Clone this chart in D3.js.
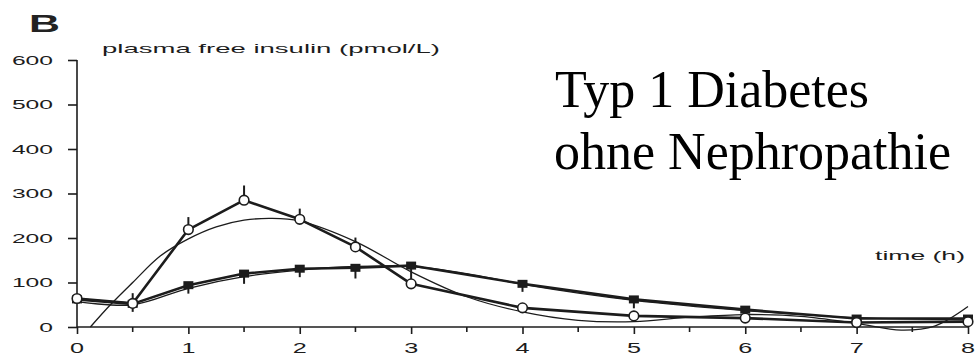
<!DOCTYPE html>
<html>
<head>
<meta charset="utf-8">
<script src="https://cdn.jsdelivr.net/npm/d3@7/dist/d3.min.js"></script>
<style>
  html, body { margin: 0; padding: 0; background: #ffffff; }
  svg { display: block; }
</style>
</head>
<body>
<script>
// Sampling times (h)
const hours = [0, 0.5, 1, 1.5, 2, 2.5, 3, 4, 5, 6, 7, 8];
// Open circles: plasma free insulin (pmol/L) and upper SEM
const circleVals = [64, 53, 219, 285, 242, 180, 97, 43, 25, 20, 10, 12];
const circleErr  = [0, 23, 28, 33, 24, 21, 0, 0, 0, 0, 0, 0];
// Filled squares: plasma free insulin (pmol/L) and lower SEM
const squareVals = [62, 52, 94, 120, 131, 133, 138, 97, 62, 39, 19, 19];
const squareErr  = [0, 18, 19, 23, 19, 24, 38, 18, 20, 6, 4, 0];
// Fitted profiles
const circleFitT = [0.12, 0.3, 0.5, 0.75, 1, 1.25, 1.5, 1.75, 2, 2.5, 3, 3.5, 4, 4.5, 5, 5.5, 6, 6.5, 7, 7.4, 7.7, 8];
const circleFitV = [0, 50, 100, 160, 198, 225, 240, 244, 238, 192, 124, 68, 34, 15, 12, 22, 28, 24, 8, -7, 2, 46];
const squareFitT = [0, 0.5, 1, 1.5, 2, 2.5, 3, 3.5, 4, 5, 6, 7, 8];
const squareFitV = [57, 50, 87, 113, 128, 136, 136, 120, 96, 60, 37, 21, 16];
// Axis ticks
const yTicks = [0, 100, 200, 300, 400, 500, 600];
const xTicks = [0, 1, 2, 3, 4, 5, 6, 7, 8];
const xMinor = [0.5, 1.5, 2.5, 3.5, 4.5, 5.5, 6.5, 7.5];

const W = 978, H = 355;
const ink = "#1c1c1c";
const sans = "'Liberation Sans', Arial, Helvetica, sans-serif";
const serif = "'Liberation Serif', 'Times New Roman', Times, serif";

const svg = d3.select("body").append("svg").attr("width", W).attr("height", H);

const x = d3.scaleLinear().domain([0, 8]).range([77, 968]);
const y = d3.scaleLinear().domain([0, 600]).range([327, 60]);

// Y axis
const yAxis = svg.append("g").attr("transform", `translate(${x(0)},0)`)
  .call(d3.axisLeft(y).tickValues(yTicks).tickSize(9).tickPadding(0).tickFormat(() => ""));
yAxis.select(".domain").attr("d", `M0,${y(600)}V${y(0)}`);
yAxis.selectAll("path, line").attr("stroke", ink).attr("stroke-width", 1.6);
svg.append("g").selectAll("text").data(yTicks).join("text")
  .attr("x", 53).attr("y", d => y(d) + 4.5)
  .attr("text-anchor", "end")
  .attr("font-family", sans).attr("font-size", 12.5).attr("fill", ink)
  .attr("textLength", d => String(d).length * 13.7).attr("lengthAdjust", "spacingAndGlyphs")
  .text(d => d);

// X axis
const xAxis = svg.append("g").attr("transform", `translate(0,${y(0)})`)
  .call(d3.axisBottom(x).tickValues(xTicks).tickSize(7).tickFormat(() => ""));
xAxis.select(".domain").attr("d", `M${x(0)},0H${x(8)}`);
xAxis.selectAll("path, line").attr("stroke", ink).attr("stroke-width", 1.6);
svg.append("g").selectAll("line").data(xMinor).join("line")
  .attr("x1", d => x(d)).attr("x2", d => x(d))
  .attr("y1", y(0)).attr("y2", y(0) + 5)
  .attr("stroke", ink).attr("stroke-width", 1.6);
svg.append("g").selectAll("text").data(xTicks).join("text")
  .attr("x", d => x(d)).attr("y", 353)
  .attr("text-anchor", "middle")
  .attr("font-family", sans).attr("font-size", 15).attr("fill", ink)
  .attr("textLength", 14).attr("lengthAdjust", "spacingAndGlyphs")
  .text(d => d);

// Fitted curves (thin)
const fitLine = d3.line().x(d => x(d[0])).y(d => y(d[1])).curve(d3.curveCatmullRom.alpha(0.5));
svg.append("path").datum(d3.zip(circleFitT, circleFitV))
  .attr("d", fitLine).attr("fill", "none").attr("stroke", ink).attr("stroke-width", 1.3);
svg.append("path").datum(d3.zip(squareFitT, squareFitV))
  .attr("d", fitLine).attr("fill", "none").attr("stroke", ink).attr("stroke-width", 1.3);

// Measured profiles (thick)
const dataLine = d3.line().x(d => x(d[0])).y(d => y(d[1]));
const squares = d3.zip(hours, squareVals, squareErr);
const circles = d3.zip(hours, circleVals, circleErr);

svg.append("path").datum(squares).attr("d", dataLine)
  .attr("fill", "none").attr("stroke", ink).attr("stroke-width", 2.6).attr("stroke-linejoin", "round");
svg.append("path").datum(circles).attr("d", dataLine)
  .attr("fill", "none").attr("stroke", ink).attr("stroke-width", 2.6).attr("stroke-linejoin", "round");

// Error bars
svg.append("g").selectAll("line").data(squares.filter(d => d[2] > 0)).join("line")
  .attr("x1", d => x(d[0])).attr("x2", d => x(d[0]))
  .attr("y1", d => y(d[1])).attr("y2", d => y(d[1] - d[2]))
  .attr("stroke", ink).attr("stroke-width", 2);
svg.append("g").selectAll("line").data(circles.filter(d => d[2] > 0)).join("line")
  .attr("x1", d => x(d[0])).attr("x2", d => x(d[0]))
  .attr("y1", d => y(d[1])).attr("y2", d => y(d[1] + d[2]))
  .attr("stroke", ink).attr("stroke-width", 2);

// Markers
svg.append("g").selectAll("rect").data(squares).join("rect")
  .attr("x", d => x(d[0]) - 5).attr("y", d => y(d[1]) - 4)
  .attr("width", 10).attr("height", 8).attr("fill", ink);
svg.append("g").selectAll("circle").data(circles).join("circle")
  .attr("cx", d => x(d[0])).attr("cy", d => y(d[1])).attr("r", 4.8)
  .attr("fill", "#ffffff").attr("stroke", ink).attr("stroke-width", 1.6);

// Panel letter and axis titles
svg.append("text").attr("x", 29).attr("y", 32)
  .attr("font-family", sans).attr("font-weight", "bold").attr("font-size", 23).attr("fill", "#222")
  .attr("textLength", 31).attr("lengthAdjust", "spacingAndGlyphs").text("B");
svg.append("text").attr("x", 102).attr("y", 53)
  .attr("font-family", sans).attr("font-size", 13).attr("fill", ink)
  .attr("textLength", 338).attr("lengthAdjust", "spacingAndGlyphs").text("plasma free insulin (pmol/L)");
svg.append("text").attr("x", 875).attr("y", 260)
  .attr("font-family", sans).attr("font-size", 13.5).attr("fill", ink)
  .attr("textLength", 90).attr("lengthAdjust", "spacingAndGlyphs").text("time (h)");

// Caption
svg.append("text").attr("x", 555).attr("y", 107)
  .attr("font-family", serif).attr("font-size", 52).attr("fill", "#000").text("Typ 1 Diabetes");
svg.append("text").attr("x", 554).attr("y", 169)
  .attr("font-family", serif).attr("font-size", 52).attr("fill", "#000").text("ohne Nephropathie");
</script>
</body>
</html>
